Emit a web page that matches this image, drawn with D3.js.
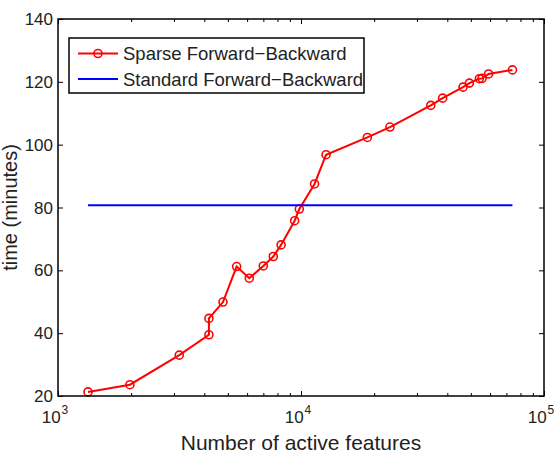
<!DOCTYPE html>
<html>
<head>
<meta charset="utf-8">
<script src="https://cdn.jsdelivr.net/npm/d3@7"></script>
<style>
  html, body { margin: 0; padding: 0; background: #fff; }
  svg { display: block; font-family: "Liberation Sans", Arial, sans-serif; }
</style>
</head>
<body>
<svg id="chart" width="559" height="455"></svg>
<script>
// ---- data ----
const features = [1329, 1977, 3155, 4179, 4179, 4775, 5433, 6125, 6998, 7691, 8280, 9416, 9843, 11370, 12680, 18750, 23230, 34200, 38270, 46420, 49310, 54200, 55610, 59160, 74150];
const sparseTime = [21.3, 23.6, 33.0, 39.5, 44.7, 49.9, 61.2, 57.5, 61.4, 64.4, 68.1, 75.8, 79.5, 87.5, 96.8, 102.3, 105.6, 112.5, 114.8, 118.3, 119.6, 121.0, 121.1, 122.5, 123.8];
const standardFeatures = [1329, 74150];
const standardTime = [80.7, 80.7];
const seriesNames = ["Sparse Forward\u2212Backward", "Standard Forward\u2212Backward"];
const xMajorTicks = [1000, 10000, 100000];
const xMajorExponents = ["3", "4", "5"];
const yTicks = [20, 40, 60, 80, 100, 120, 140];
const xLabel = "Number of active features";
const yLabel = "time (minutes)";

// ---- layout ----
const L = 58, R = 544, T = 19, B = 396;
const svg = d3.select("#chart");
const x = d3.scaleLog().domain([1000, 100000]).range([L, R]);
const y = d3.scaleLinear().domain([20, 140]).range([B, T]);
const textColor = "#222";

const xMinor = [];
for (let d = 1000; d < 100000; d *= 10) for (let k = 2; k <= 9; k++) xMinor.push(d * k);

// ticks (inward) with d3 axes
function styleAxis(g) {
  g.select(".domain").remove();
  g.selectAll(".tick line").attr("stroke", "#000").attr("stroke-width", 1);
  g.selectAll(".tick text").remove();
}
svg.append("g").attr("transform", `translate(0,${B})`)
  .call(d3.axisBottom(x).tickValues(xMinor).tickSize(-3)).call(styleAxis);
svg.append("g").attr("transform", `translate(0,${B})`)
  .call(d3.axisBottom(x).tickValues(xMajorTicks).tickSize(-5)).call(styleAxis);
svg.append("g").attr("transform", `translate(0,${T})`)
  .call(d3.axisTop(x).tickValues(xMinor).tickSize(-3)).call(styleAxis);
svg.append("g").attr("transform", `translate(0,${T})`)
  .call(d3.axisTop(x).tickValues(xMajorTicks).tickSize(-5)).call(styleAxis);
svg.append("g").attr("transform", `translate(${L},0)`)
  .call(d3.axisLeft(y).tickValues(yTicks).tickSize(-5)).call(styleAxis);
svg.append("g").attr("transform", `translate(${R},0)`)
  .call(d3.axisRight(y).tickValues(yTicks).tickSize(-5)).call(styleAxis);

// y tick labels
svg.append("g").selectAll("text").data(yTicks).join("text")
  .attr("x", L - 5).attr("y", d => y(d)).attr("dy", "0.36em")
  .attr("text-anchor", "end").attr("font-size", 17).attr("fill", textColor)
  .text(d => d);

// x tick labels with superscript
const xl = svg.append("g").selectAll("text").data(xMajorTicks).join("text")
  .attr("x", d => x(d) - 3).attr("y", 423)
  .attr("text-anchor", "middle").attr("font-size", 17).attr("fill", textColor);
xl.append("tspan").text("10");
xl.append("tspan").attr("font-size", 12).attr("dy", -9).attr("dx", 1)
  .text((d, i) => xMajorExponents[i]);

// axis labels
svg.append("text").attr("x", (L + R) / 2).attr("y", 450)
  .attr("text-anchor", "middle").attr("font-size", 21).attr("fill", textColor)
  .text(xLabel);
svg.append("text").attr("transform", `translate(17,${(T + B) / 2}) rotate(-90)`)
  .attr("text-anchor", "middle").attr("font-size", 20).attr("fill", textColor)
  .text(yLabel);

// series
const sparseData = features.map((f, i) => [f, sparseTime[i]]);
const line = d3.line().x(d => x(d[0])).y(d => y(d[1]));
svg.append("path").datum(sparseData).attr("d", line)
  .attr("fill", "none").attr("stroke", "#ff0000").attr("stroke-width", 2);
svg.append("g").selectAll("circle").data(sparseData).join("circle")
  .attr("cx", d => x(d[0])).attr("cy", d => y(d[1])).attr("r", 4)
  .attr("fill", "none").attr("stroke", "#ff0000").attr("stroke-width", 1.6);
const stdData = standardFeatures.map((f, i) => [f, standardTime[i]]);
svg.append("path").datum(stdData).attr("d", line)
  .attr("fill", "none").attr("stroke", "#0000ff").attr("stroke-width", 2);

// frame
svg.append("rect").attr("x", L).attr("y", T).attr("width", R - L).attr("height", B - T)
  .attr("fill", "none").attr("stroke", "#000").attr("stroke-width", 1.5);

// legend
const lg = svg.append("g");
lg.append("rect").attr("x", 69).attr("y", 38).attr("width", 295).attr("height", 55)
  .attr("fill", "#fff").attr("stroke", "#000").attr("stroke-width", 1.5);
const rows = [53.5, 79];
const colors = ["#ff0000", "#0000ff"];
seriesNames.forEach((name, i) => {
  lg.append("line").attr("x1", 78).attr("x2", 118).attr("y1", rows[i]).attr("y2", rows[i])
    .attr("stroke", colors[i]).attr("stroke-width", 2);
  if (i === 0) {
    lg.append("circle").attr("cx", 98).attr("cy", rows[i]).attr("r", 4)
      .attr("fill", "none").attr("stroke", colors[i]).attr("stroke-width", 1.6);
  }
  lg.append("text").attr("x", 123).attr("y", rows[i]).attr("dy", "0.36em")
    .attr("font-size", 18.5).attr("fill", textColor).text(name);
});
</script>
</body>
</html>
